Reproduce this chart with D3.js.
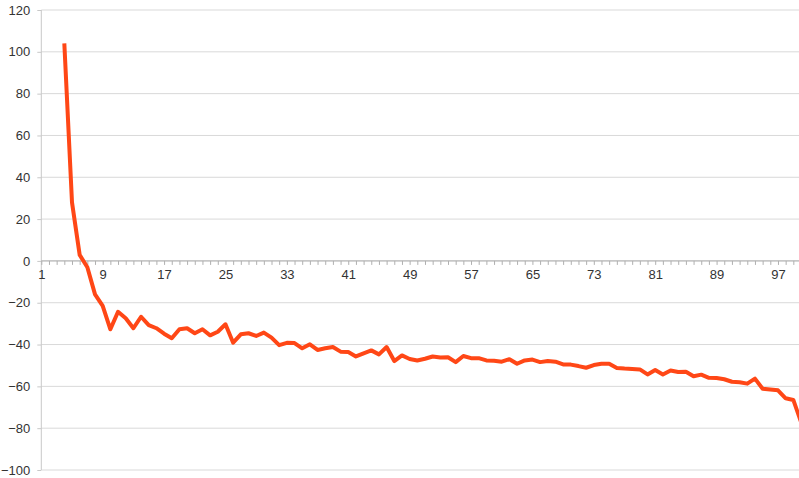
<!DOCTYPE html>
<html>
<head>
<meta charset="utf-8">
<script src="https://cdn.jsdelivr.net/npm/d3@7"></script>
<style>
  body { margin: 0; background: #fff; }
  svg { display: block; font-family: "Liberation Sans", Arial, sans-serif; }
  .grid line { stroke: #d9d9d9; stroke-width: 1; }
  .axis text { fill: #333; font-size: 13px; }
</style>
</head>
<body>
<svg width="799" height="478"></svg>
<script>
// categories 1..100, first three have no value
var categories = d3.range(1, 101);
var values = [
  null, null, null, 104, 28, 2.9, -3, -16, -21.5, -32.7,
  -24.3, -27.4, -32.2, -26.7, -30.7, -32.2, -34.8, -37, -32.7, -32.2,
  -34.6, -32.7, -35.6, -33.9, -30.3, -39.1, -35.1, -34.6, -35.9, -34.3,
  -36.7, -40.3, -39.2, -39.3, -41.8, -39.9, -42.6, -41.8, -41.2, -43.4,
  -43.6, -45.7, -44.2, -42.8, -44.7, -41.2, -47.9, -45.2, -46.9, -47.6,
  -46.8, -45.7, -46.2, -46.1, -48.4, -45.5, -46.5, -46.5, -47.6, -47.8,
  -48.2, -47, -49.2, -47.6, -47.2, -48.4, -47.9, -48.2, -49.5, -49.6,
  -50.3, -51.1, -49.8, -49.2, -49.2, -51.2, -51.5, -51.7, -51.9, -54.3,
  -52.2, -54.3, -52.4, -53.1, -53, -55.2, -54.4, -55.9, -56, -56.6,
  -57.8, -58, -58.7, -56.3, -61.1, -61.5, -61.9, -65.7, -66.5, -77
];
var xTickLabels = [1, 9, 17, 25, 33, 41, 49, 57, 65, 73, 81, 89, 97];
var yTicks = [-100, -80, -60, -40, -20, 0, 20, 40, 60, 80, 100, 120];

var svg = d3.select("svg"),
    plotLeft = 41.3, plotRight = 801, plotTop = 10, plotBottom = 470;

var x = d3.scalePoint().domain(categories).range([plotLeft, plotRight]),
    y = d3.scaleLinear().domain([-100, 120]).range([plotBottom, plotTop]);

// horizontal gridlines
svg.append("g").attr("class", "grid")
  .selectAll("line").data(yTicks).enter().append("line")
    .attr("x1", plotLeft).attr("x2", 799)
    .attr("y1", function(d) { return y(d); })
    .attr("y2", function(d) { return y(d); });

// y axis
var yAxis = svg.append("g")
  .attr("class", "axis")
  .attr("transform", "translate(" + plotLeft + ",0)")
  .call(d3.axisLeft(y).tickValues(yTicks).tickSize(4).tickPadding(7));
yAxis.select(".domain").attr("stroke", "#c8c8c8").attr("d", "M0," + plotTop + "V" + plotBottom);
yAxis.selectAll(".tick line").attr("stroke", "#c8c8c8");

// x axis: minor ticks at every category
var xMinor = svg.append("g")
  .attr("transform", "translate(0," + y(0) + ")")
  .call(d3.axisBottom(x).tickSize(4).tickFormat(""));
xMinor.select(".domain").attr("stroke", "#b0b0b0").attr("d", "M" + plotLeft + ",0H799");
xMinor.selectAll(".tick line").attr("stroke", "#b0b0b0");

// x axis labels every 8 categories
var xAxis = svg.append("g")
  .attr("class", "axis")
  .attr("transform", "translate(0," + y(0) + ")")
  .call(d3.axisBottom(x).tickValues(xTickLabels).tickSize(0).tickPadding(9));
xAxis.select(".domain").remove();

var line = d3.line()
  .defined(function(d) { return d != null; })
  .x(function(d, i) { return x(categories[i]); })
  .y(function(d) { return y(d); });

svg.append("path")
  .datum(values)
  .attr("fill", "none")
  .attr("stroke", "#ff4716")
  .attr("stroke-width", 4)
  .attr("stroke-linejoin", "round")
  .attr("d", line);
</script>
</body>
</html>
